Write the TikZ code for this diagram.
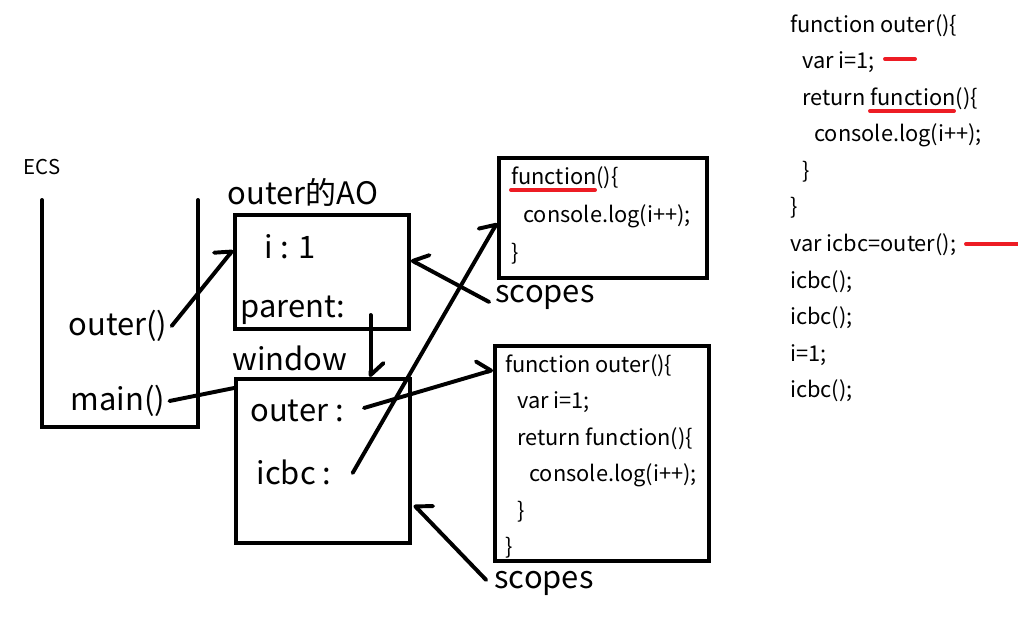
\documentclass[tikz,border=0pt]{standalone}
\usepackage{fontspec}
\setmainfont{Noto Sans CJK SC}
\usepackage{xcolor}
\usetikzlibrary{
    positioning,
    calc,
    arrows.meta
}
\definecolor{paintred}{HTML}{ED1C24}
\tikzset{
  pen/.style = {
      line width=2.8pt,
      line cap=round,
      line join=miter
  },
  frame/.style = {
      draw,
      pen,
      rectangle,
      inner sep=0pt
  },
  small/.style = {
      font=\fontsize{14.5}{17}\selectfont,
      inner sep=0pt
  },
  big/.style = {
      font=\fontsize{22}{26}\selectfont,
      inner sep=0pt
  },
  code/.style = {
      font=\fontsize{15.5}{26}\selectfont,
      align=left,
      anchor=north west,
      inner sep=0pt
  },
  link/.style = {
      pen,
      -{Straight Barb[harpoon, length=0.3cm, width=0.65cm, round]}
  },
  rlink/.style = {
      pen,
      -{Straight Barb[harpoon, swap, length=0.3cm, width=0.65cm, round]}
  },
  hilite/.style = {
      draw=paintred,
      line width=2.8pt,
      line cap=round
  }
}
\newcommand{\ind}{\hspace*{0.3cm}}

\begin{document}
\begin{tikzpicture}[x=0.025cm, y=-0.025cm]
        \useasboundingbox (0,0) rectangle (1018,639);
        % Stack
        \node[small] (ecs) at (42,167) {ECS};
        \draw[pen] (42,200) -- (42,427) -- (198,427) -- (198,200);
        \node[big] (callo) at (118,326) {outer()};
        \node[big] (callm) at (118,401) {main()};
        % Objects
        \node[frame, minimum width=4.35cm, minimum height=2.85cm] (ao) at (322,272) {};
        \node[big] (aotitle) at (303,192) {outer的AO};
        \node[big] (ival) at (290,247) {i : 1};
        \node[big] (parent) at (293,310) {parent:};
        \node[frame, minimum width=4.35cm, minimum height=4.1cm] (win) at (323,461) {};
        \node[big] (wintitle) at (290,358) {window};
        \node[big] (wouter) at (297,411) {outer :};
        \node[big] (wicbc) at (294,472) {icbc :};
        % Functions
        \node[frame, minimum width=5.2cm, minimum height=3.0cm] (fn) at (603,218) {};
        \node[code] (fncode) at (511,166) {function()\{\\[1pt]
            \ind console.log(i++);\\[1pt]
            \}};
        \node[frame, minimum width=5.35cm, minimum height=5.375cm] (fout) at (602,453.5) {};
        \node[code] (foutcode) at (505,354) {function outer()\{\\
            \ind var i=1;\\
            \ind return function()\{\\
            \ind\ind console.log(i++);\\
            \ind \}\\
            \}};
        \node[big] (scopesA) at (545,297) {scopes};
        \node[big] (scopesB) at (544,583) {scopes};
        % Source
        \node[code] (src) at (790,14) {function outer()\{\\
            \ind var i=1;\\
            \ind return function()\{\\
            \ind\ind console.log(i++);\\
            \ind \}\\
            \}\\
            var icbc=outer();\\
            icbc();\\
            icbc();\\
            i=1;\\
            icbc();};
        % Edges
        \draw[link] ($(callo.east)+(4,0)$) -- ($(ao.west)+(0,-22)$);
        \draw[pen] ($(callm.east)+(4,0)$) -- ($(win.north west)+(0,11)$);
        \draw[link] ($(parent.east)+(25,5)$) coordinate (pdown) -- (pdown |- win.north);
        \draw[link] ($(wouter.east)+(20,-3)$) -- ($(fout.north west)+(0,26)$);
        \draw[link] ($(wicbc.east)+(21,1)$) -- ($(fn.north west)+(0,67)$);
        \draw[rlink] ($(scopesA.west)+(-6,5)$) -- ($(ao.east)+(0,-12)$);
        \draw[rlink] ($(scopesB.west)+(-8,-3)$) -- ($(win.east)+(2,44)$);
        % Marks
        \draw[hilite] (511,190) -- (595,190);
        \draw[hilite] (885,59) -- (915,59);
        \draw[hilite] (870,111) -- (954,111);
        \draw[hilite] (966,244) -- (1018,244);
    \end{tikzpicture}
\end{document}
